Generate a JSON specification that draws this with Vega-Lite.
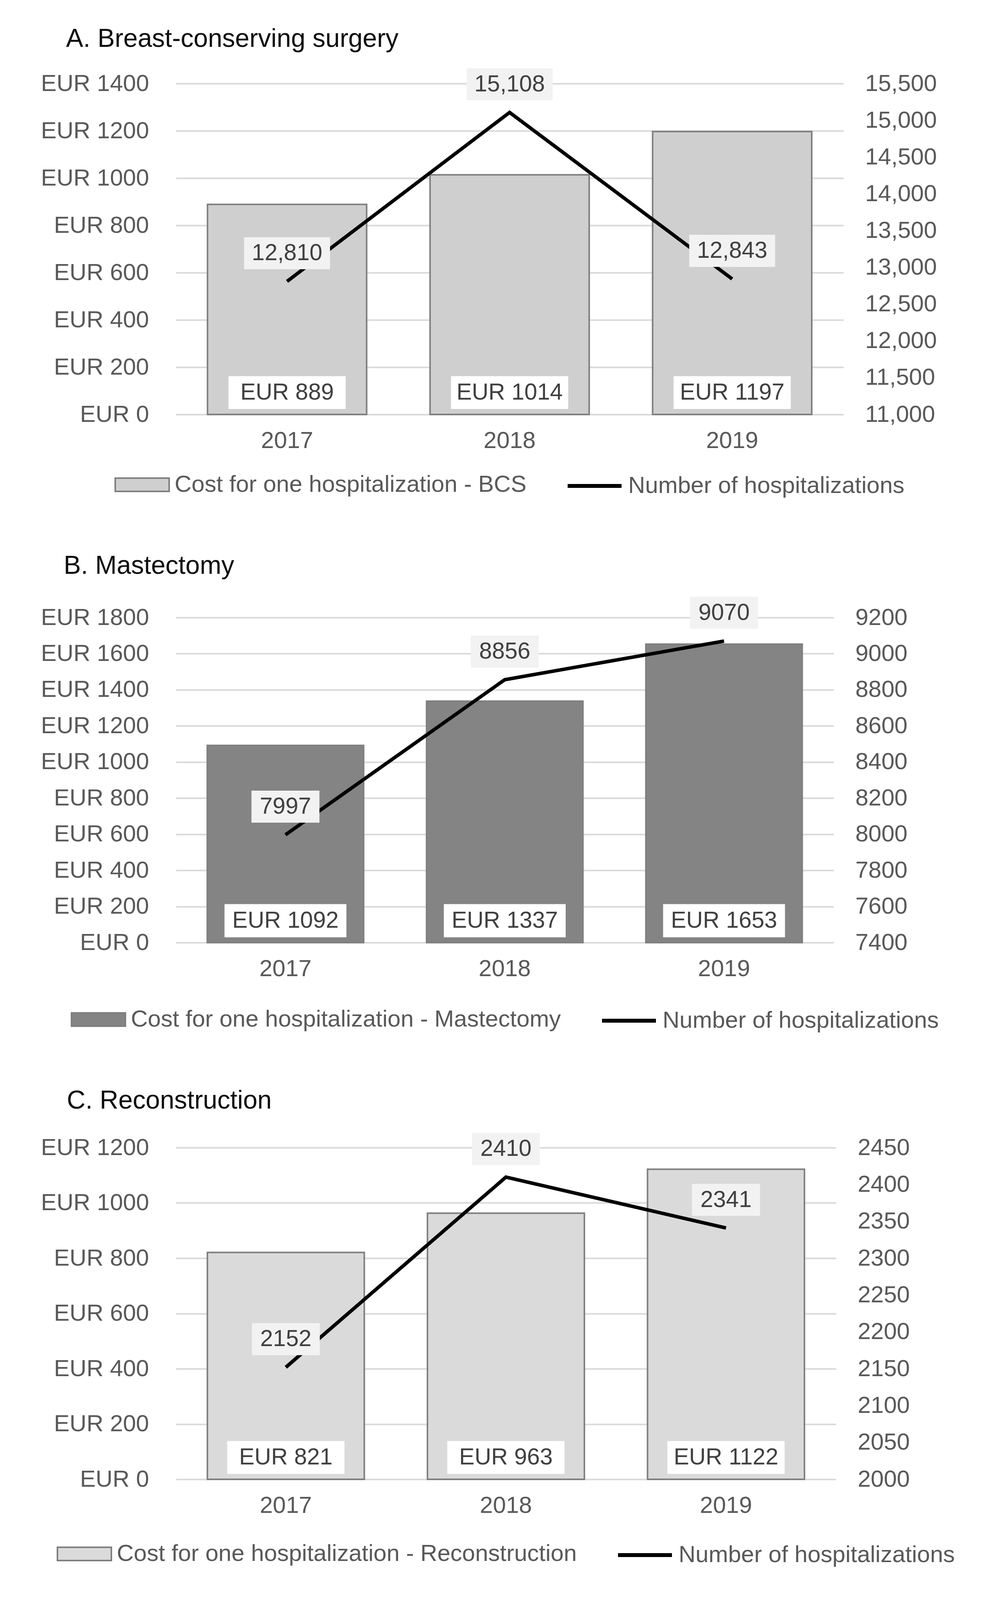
{
  "$schema": "https://vega.github.io/schema/vega-lite/v6.json",
  "background": "white",
  "padding": {"left": 104, "top": 66, "right": 20, "bottom": 10},
  "spacing": 142,
  "resolve": {"scale": {"fill": "independent", "stroke": "independent"}, "legend": {"fill": "independent", "stroke": "independent"}},
  "config": {
    "font": "Liberation Sans",
    "view": {"stroke": null},
    "axis": {"labelFont": "Liberation Sans", "labelFontSize": 60, "labelColor": "#595959", "domain": false, "ticks": false, "labelLimit": 0},
    "legend": {"labelFont": "Liberation Sans", "labelFontSize": 60, "labelColor": "#595959", "labelLimit": 0, "labelOffset": 12, "symbolOpacity": 1, "layout": {"bottom": {"anchor": "middle", "direction": "horizontal", "margin": 100}}}
  },
  "vconcat": [
    {
      "width": 1709, "height": 847,
      "title": {"text": "A. Breast-conserving surgery", "anchor": "start", "frame": "group", "dx": -281, "fontSize": 66, "fontWeight": "normal", "font": "Liberation Sans", "color": "#0d0d0d", "offset": 41},
      "data": {"values": [
        {"year": "2017", "cost": 889, "costLabel": "EUR 889", "hosp": 12810, "hospLabel": "12,810"},
        {"year": "2018", "cost": 1014, "costLabel": "EUR 1014", "hosp": 15108, "hospLabel": "15,108"},
        {"year": "2019", "cost": 1197, "costLabel": "EUR 1197", "hosp": 12843, "hospLabel": "12,843"}
      ]},
      "encoding": {"x": {"field": "year", "type": "ordinal", "title": null, "scale": {"paddingInner": 0.285, "paddingOuter": 0.1425}, "axis": {"labelAngle": 0, "labelPadding": 38, "grid": false}}},
      "layer": [
        {"mark": {"type": "bar", "stroke": "#7f7f7f", "strokeWidth": 4},
         "encoding": {
           "y": {"field": "cost", "type": "quantitative", "title": null, "scale": {"domain": [0, 1400], "nice": false}, "axis": {"values": [0, 200, 400, 600, 800, 1000, 1200, 1400], "labelExpr": "'EUR ' + datum.value", "grid": true, "gridColor": "#d9d9d9", "gridWidth": 4, "labelPadding": 69}},
           "fill": {"datum": "Cost for one hospitalization - BCS", "type": "nominal", "scale": {"range": ["#cfcfcf"]},
             "legend": {"title": null, "orient": "bottom", "direction": "horizontal", "offset": 12, "symbolType": "M-1,-0.245H1V0.245H-1Z", "symbolSize": 19044, "symbolStrokeColor": "#7f7f7f", "symbolStrokeWidth": 4}}
         }},
        {"mark": {"type": "point", "shape": "M-1,-0.28H1V0.28H-1Z", "size": 90000, "filled": true, "fill": "#ffffff", "strokeWidth": 0, "opacity": 1, "yOffset": -56},
         "encoding": {"y": {"datum": 0, "type": "quantitative", "scale": {"domain": [0, 1400], "nice": false}, "axis": null}}},
        {"mark": {"type": "text", "font": "Liberation Sans", "fontSize": 59, "fill": "#404040", "baseline": "middle", "align": "center", "yOffset": -56},
         "encoding": {"y": {"datum": 0, "type": "quantitative", "scale": {"domain": [0, 1400], "nice": false}, "axis": null}, "text": {"field": "costLabel"}}},
        {"mark": {"type": "line", "strokeWidth": 9},
         "encoding": {
           "y": {"field": "hosp", "type": "quantitative", "title": null, "scale": {"domain": [11000, 15500], "nice": false, "zero": false}, "axis": {"orient": "right", "values": [11000, 11500, 12000, 12500, 13000, 13500, 14000, 14500, 15000, 15500], "format": ",d", "grid": false, "labelPadding": 55}},
           "stroke": {"datum": "Number of hospitalizations", "type": "nominal", "scale": {"range": ["#000000"]},
             "legend": {"title": null, "orient": "bottom", "direction": "horizontal", "offset": 12, "symbolType": "stroke", "symbolSize": 19044, "symbolStrokeWidth": 10}}
         }},
        {"mark": {"type": "point", "shape": "M-1,-0.373H1V0.373H-1Z", "size": 48400, "filled": true, "fill": "#f2f2f2", "strokeWidth": 0, "opacity": 1, "yOffset": -72},
         "encoding": {"y": {"field": "hosp", "type": "quantitative", "scale": {"domain": [11000, 15500], "nice": false, "zero": false}, "axis": null}}},
        {"mark": {"type": "text", "font": "Liberation Sans", "fontSize": 59, "fill": "#404040", "baseline": "middle", "align": "center", "yOffset": -72},
         "encoding": {"y": {"field": "hosp", "type": "quantitative", "scale": {"domain": [11000, 15500], "nice": false, "zero": false}, "axis": null}, "text": {"field": "hospLabel"}}}
      ],
      "resolve": {"scale": {"y": "independent"}, "axis": {"y": "independent"}}
    },
    {
      "width": 1684, "height": 832,
      "title": {"text": "B. Mastectomy", "anchor": "start", "frame": "group", "dx": -287, "fontSize": 66, "fontWeight": "normal", "font": "Liberation Sans", "color": "#0d0d0d", "offset": 45},
      "data": {"values": [
        {"year": "2017", "cost": 1092, "costLabel": "EUR 1092", "hosp": 7997, "hospLabel": "7997"},
        {"year": "2018", "cost": 1337, "costLabel": "EUR 1337", "hosp": 8856, "hospLabel": "8856"},
        {"year": "2019", "cost": 1653, "costLabel": "EUR 1653", "hosp": 9070, "hospLabel": "9070"}
      ]},
      "encoding": {"x": {"field": "year", "type": "ordinal", "title": null, "scale": {"paddingInner": 0.287, "paddingOuter": 0.1435}, "axis": {"labelAngle": 0, "labelPadding": 38, "grid": false}}},
      "layer": [
        {"mark": {"type": "bar", "stroke": "#7f7f7f", "strokeWidth": 4},
         "encoding": {
           "y": {"field": "cost", "type": "quantitative", "title": null, "scale": {"domain": [0, 1800], "nice": false}, "axis": {"values": [0, 200, 400, 600, 800, 1000, 1200, 1400, 1600, 1800], "labelExpr": "'EUR ' + datum.value", "grid": true, "gridColor": "#d9d9d9", "gridWidth": 4, "labelPadding": 69}},
           "fill": {"datum": "Cost for one hospitalization - Mastectomy", "type": "nominal", "scale": {"range": ["#848484"]},
             "legend": {"title": null, "orient": "bottom", "direction": "horizontal", "offset": 29, "symbolType": "M-1,-0.245H1V0.245H-1Z", "symbolSize": 19044, "symbolStrokeColor": "#7f7f7f", "symbolStrokeWidth": 4}}
         }},
        {"mark": {"type": "point", "shape": "M-1,-0.272H1V0.272H-1Z", "size": 97344, "filled": true, "fill": "#ffffff", "strokeWidth": 0, "opacity": 1, "yOffset": -56},
         "encoding": {"y": {"datum": 0, "type": "quantitative", "scale": {"domain": [0, 1800], "nice": false}, "axis": null}}},
        {"mark": {"type": "text", "font": "Liberation Sans", "fontSize": 59, "fill": "#404040", "baseline": "middle", "align": "center", "yOffset": -56},
         "encoding": {"y": {"datum": 0, "type": "quantitative", "scale": {"domain": [0, 1800], "nice": false}, "axis": null}, "text": {"field": "costLabel"}}},
        {"mark": {"type": "line", "strokeWidth": 9},
         "encoding": {
           "y": {"field": "hosp", "type": "quantitative", "title": null, "scale": {"domain": [7400, 9200], "nice": false, "zero": false}, "axis": {"orient": "right", "values": [7400, 7600, 7800, 8000, 8200, 8400, 8600, 8800, 9000, 9200], "format": "d", "grid": false, "labelPadding": 55}},
           "stroke": {"datum": "Number of hospitalizations", "type": "nominal", "scale": {"range": ["#000000"]},
             "legend": {"title": null, "orient": "bottom", "direction": "horizontal", "offset": 29, "symbolType": "stroke", "symbolSize": 19044, "symbolStrokeWidth": 10}}
         }},
        {"mark": {"type": "point", "shape": "M-1,-0.471H1V0.471H-1Z", "size": 30276, "filled": true, "fill": "#f2f2f2", "strokeWidth": 0, "opacity": 1, "yOffset": -72},
         "encoding": {"y": {"field": "hosp", "type": "quantitative", "scale": {"domain": [7400, 9200], "nice": false, "zero": false}, "axis": null}}},
        {"mark": {"type": "text", "font": "Liberation Sans", "fontSize": 59, "fill": "#404040", "baseline": "middle", "align": "center", "yOffset": -72},
         "encoding": {"y": {"field": "hosp", "type": "quantitative", "scale": {"domain": [7400, 9200], "nice": false, "zero": false}, "axis": null}, "text": {"field": "hospLabel"}}}
      ],
      "resolve": {"scale": {"y": "independent"}, "axis": {"y": "independent"}}
    },
    {
      "width": 1690, "height": 849,
      "title": {"text": "C. Reconstruction", "anchor": "start", "frame": "group", "dx": -279, "fontSize": 66, "fontWeight": "normal", "font": "Liberation Sans", "color": "#0d0d0d", "offset": 48},
      "data": {"values": [
        {"year": "2017", "cost": 821, "costLabel": "EUR 821", "hosp": 2152, "hospLabel": "2152"},
        {"year": "2018", "cost": 963, "costLabel": "EUR 963", "hosp": 2410, "hospLabel": "2410"},
        {"year": "2019", "cost": 1122, "costLabel": "EUR 1122", "hosp": 2341, "hospLabel": "2341"}
      ]},
      "encoding": {"x": {"field": "year", "type": "ordinal", "title": null, "scale": {"paddingInner": 0.287, "paddingOuter": 0.1435}, "axis": {"labelAngle": 0, "labelPadding": 38, "grid": false}}},
      "layer": [
        {"mark": {"type": "bar", "stroke": "#7f7f7f", "strokeWidth": 4},
         "encoding": {
           "y": {"field": "cost", "type": "quantitative", "title": null, "scale": {"domain": [0, 1200], "nice": false}, "axis": {"values": [0, 200, 400, 600, 800, 1000, 1200], "labelExpr": "'EUR ' + datum.value", "grid": true, "gridColor": "#d9d9d9", "gridWidth": 4, "labelPadding": 69}},
           "fill": {"datum": "Cost for one hospitalization - Reconstruction", "type": "nominal", "scale": {"range": ["#dadada"]},
             "legend": {"title": null, "orient": "bottom", "direction": "horizontal", "offset": 23, "symbolType": "M-1,-0.245H1V0.245H-1Z", "symbolSize": 19044, "symbolStrokeColor": "#7f7f7f", "symbolStrokeWidth": 4}}
         }},
        {"mark": {"type": "point", "shape": "M-1,-0.28H1V0.28H-1Z", "size": 90000, "filled": true, "fill": "#ffffff", "strokeWidth": 0, "opacity": 1, "yOffset": -56},
         "encoding": {"y": {"datum": 0, "type": "quantitative", "scale": {"domain": [0, 1200], "nice": false}, "axis": null}}},
        {"mark": {"type": "text", "font": "Liberation Sans", "fontSize": 59, "fill": "#404040", "baseline": "middle", "align": "center", "yOffset": -56},
         "encoding": {"y": {"datum": 0, "type": "quantitative", "scale": {"domain": [0, 1200], "nice": false}, "axis": null}, "text": {"field": "costLabel"}}},
        {"mark": {"type": "line", "strokeWidth": 9},
         "encoding": {
           "y": {"field": "hosp", "type": "quantitative", "title": null, "scale": {"domain": [2000, 2450], "nice": false, "zero": false}, "axis": {"orient": "right", "values": [2000, 2050, 2100, 2150, 2200, 2250, 2300, 2350, 2400, 2450], "format": "d", "grid": false, "labelPadding": 55}},
           "stroke": {"datum": "Number of hospitalizations", "type": "nominal", "scale": {"range": ["#000000"]},
             "legend": {"title": null, "orient": "bottom", "direction": "horizontal", "offset": 23, "symbolType": "stroke", "symbolSize": 19044, "symbolStrokeWidth": 10}}
         }},
        {"mark": {"type": "point", "shape": "M-1,-0.471H1V0.471H-1Z", "size": 30276, "filled": true, "fill": "#f2f2f2", "strokeWidth": 0, "opacity": 1, "yOffset": -72},
         "encoding": {"y": {"field": "hosp", "type": "quantitative", "scale": {"domain": [2000, 2450], "nice": false, "zero": false}, "axis": null}}},
        {"mark": {"type": "text", "font": "Liberation Sans", "fontSize": 59, "fill": "#404040", "baseline": "middle", "align": "center", "yOffset": -72},
         "encoding": {"y": {"field": "hosp", "type": "quantitative", "scale": {"domain": [2000, 2450], "nice": false, "zero": false}, "axis": null}, "text": {"field": "hospLabel"}}}
      ],
      "resolve": {"scale": {"y": "independent"}, "axis": {"y": "independent"}}
    }
  ]
}
